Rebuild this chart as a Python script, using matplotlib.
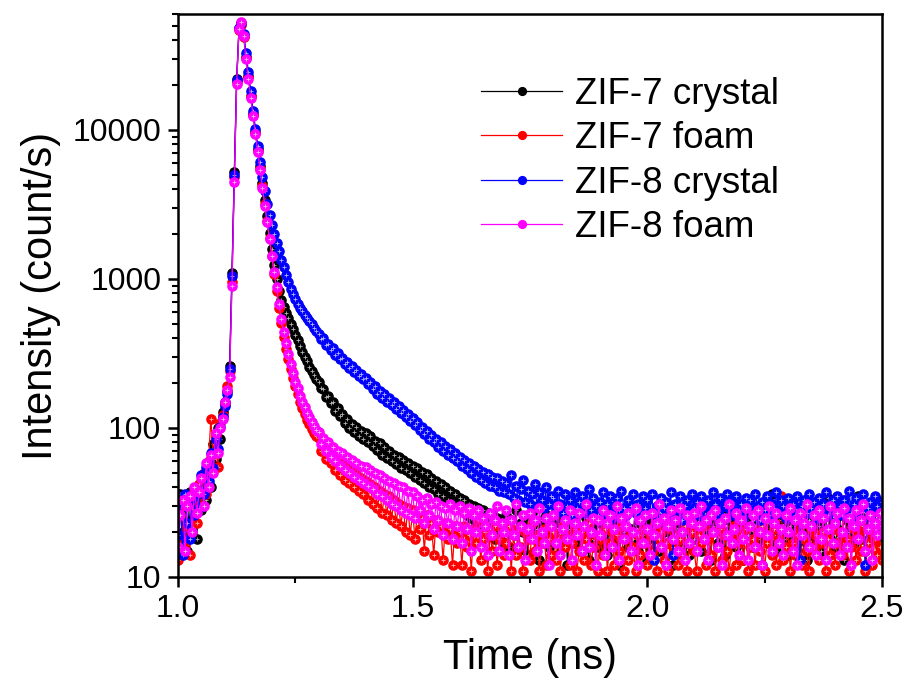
import numpy as np
import matplotlib
matplotlib.use("Agg")
import matplotlib.pyplot as plt
from matplotlib.ticker import LogLocator, NullFormatter, FixedLocator, FixedFormatter

plt.rcParams['font.family'] = ['Liberation Sans', 'DejaVu Sans']

# time channels (ns), 0.005 ns apart
time_ns = np.round(np.arange(1.0, 2.5025, 0.005), 3)

labels = ['ZIF-7 crystal', 'ZIF-7 foam', 'ZIF-8 crystal', 'ZIF-8 foam']
colors = ['#000000', '#ff0000', '#0000ff', '#ff00ff']

zif7_crystal = [
    # 1.000 - 1.105
    14, 36, 20, 31, 15, 37, 24, 33, 18, 40, 28, 45, 33, 52, 40, 78, 62, 100, 85, 128, 150, 178,
    # 1.110 - 1.205
    260, 1100, 5200, 22000, 48000, 52000, 43000, 31000, 23000, 17000, 12800, 9700, 7400, 5700,
    4400, 3400, 2650, 2050, 1600, 1250,
    # 1.210 - 1.295
    1000, 830, 720, 650, 590, 545, 500, 460, 420, 390, 355, 325, 300, 280, 258, 242, 226, 212,
    # 1.300 - 2.500
    205, 186, 184, 162, 165, 146, 150, 131, 136, 120, 124, 108, 115, 100, 106, 94, 101, 88, 96, 85,
    92, 80, 88, 76, 82, 71, 79, 66, 74, 63, 70, 60, 66, 57, 64, 54, 61, 52, 58, 50,
    56, 47, 54, 45, 51, 43, 49, 40, 46, 39, 44, 36, 42, 35, 40, 33, 38, 31, 36, 30,
    34, 28, 33, 26, 31, 25, 30, 23, 29, 22, 28, 19, 27, 21, 26, 18, 25, 20, 24, 17,
    26, 16, 24, 19, 28, 15, 23, 20, 25, 14, 22, 27, 18, 21, 13, 24, 19, 26, 16, 22,
    20, 25, 14, 23, 18, 27, 12, 21, 24, 17, 22, 29, 15, 19, 25, 13, 22, 18, 26, 16,
    23, 19, 28, 14, 21, 25, 17, 22, 12, 24, 20, 27, 16, 21, 18, 30, 15, 23, 19, 25,
    13, 22, 26, 18, 21, 15, 24, 20, 28, 17, 22, 12, 25, 19, 23, 16, 27, 21, 14, 24,
    18, 26, 20, 15, 23, 19, 29, 13, 22, 25, 17, 21, 27, 14, 20, 24, 18, 22, 16, 26,
    21, 13, 24, 19, 27, 16, 22, 18, 25, 12, 20, 23, 17, 36, 21, 15, 24, 19, 26, 18,
    14, 22, 25, 18, 21, 27, 16, 20, 13, 24, 19, 28, 17, 22, 15, 25, 20, 34, 18, 23,
    16, 21, 26, 19, 13, 24, 20, 27, 17, 22, 35, 18, 25, 15, 21, 28, 19, 23, 33, 17,
    22,
]

zif7_foam = [
    13, 30, 17, 35, 22, 14, 33, 38, 23, 42, 30, 50, 36, 60, 115, 68, 88, 55, 108, 122, 145, 190,
    240, 950, 4800, 21000, 47000, 51000, 42000, 30500, 22500, 16800, 12600, 9500, 7200, 5500,
    4200, 3200, 2450, 1880, 1420, 1080,
    830, 640, 510, 410, 340, 290, 250, 215, 190, 168, 150, 136, 124, 114, 106, 99, 93, 88,
    86, 70, 78, 62, 72, 58, 66, 52, 63, 48, 58, 45, 55, 43, 52, 40, 49, 38, 46, 36,
    44, 33, 42, 31, 40, 29, 38, 27, 36, 26, 35, 24, 33, 23, 31, 22, 30, 20, 29, 19,
    28, 18, 27, 21, 25, 15, 26, 19, 23, 14, 24, 20, 22, 13, 23, 18, 21, 12, 22, 17,
    20, 12, 22, 16, 19, 11, 21, 17, 24, 13, 18, 20, 11, 19, 15, 22, 12, 18, 21, 14,
    17, 22, 11, 19, 14, 21, 16, 11, 20, 18, 13, 23, 15, 19, 11, 17, 21, 12, 18, 14,
    20, 13, 18, 11, 22, 16, 19, 12, 17, 21, 11, 15, 20, 13, 18, 23, 12, 16, 19, 11,
    18, 14, 21, 11, 17, 20, 12, 19, 15, 22, 11, 18, 13, 20, 16, 11, 19, 14, 21, 17,
    12, 19, 15, 22, 11, 18, 20, 13, 17, 11, 21, 16, 19, 12, 18, 14, 22, 11, 17, 20,
    15, 11, 19, 17, 22, 12, 18, 14, 20, 11, 16, 21, 13, 19, 15, 11, 18, 22, 12, 17,
    19, 13, 21, 11, 16, 18, 12, 20, 15, 22, 11, 17, 19, 14, 21, 12, 18, 35, 13, 16,
    20, 11, 17, 14, 19, 22, 12, 18, 15, 11, 21, 16, 19, 13, 17, 20, 11, 18, 14, 21,
    12, 17, 20, 14, 33, 18, 11, 16, 21, 13, 19, 15, 22, 11, 17, 20, 12, 18, 14, 16,
    13,
]

zif8_crystal = [
    19, 32, 14, 36, 23, 18, 34, 26, 38, 29, 48, 36, 55, 44, 68, 54, 85, 72, 102, 118, 140, 170,
    250, 1050, 5000, 21500, 48500, 52500, 44000, 33000, 24500, 18200, 13500, 10200, 7800, 6100,
    4800, 3900, 3200, 2700, 2300, 2000,
    1750, 1550, 1350, 1200, 1060, 950, 860, 790, 730, 680, 640, 605, 575, 545, 520, 495, 470, 448,
    430, 395, 400, 362, 368, 335, 342, 310, 318, 290, 296, 270, 278, 252, 260, 238, 245, 224, 230, 212,
    215, 196, 202, 184, 190, 170, 178, 160, 168, 150, 158, 142, 150, 134, 140, 126, 132, 118, 124, 112,
    116, 104, 110, 97, 102, 91, 96, 85, 90, 80, 85, 75, 80, 70, 76, 66, 72, 63, 68, 60,
    64, 56, 61, 53, 58, 50, 56, 47, 53, 45, 51, 43, 49, 41, 47, 40, 46, 38, 44, 37,
    43, 36, 48, 34, 41, 33, 39, 45, 32, 38, 31, 36, 42, 30, 37, 33, 29, 40, 31, 35,
    34, 28, 38, 31, 27, 36, 30, 33, 26, 37, 29, 32, 35, 27, 31, 39, 28, 34, 30, 26,
    32, 37, 27, 31, 35, 25, 30, 34, 28, 38, 29, 26, 33, 30, 36, 27, 31, 24, 35, 29,
    33, 27, 36, 13, 30, 25, 34, 29, 32, 26, 37, 14, 31, 28, 35, 24, 30, 33, 27, 36,
    29, 32, 26, 35, 30, 24, 33, 28, 37, 31, 27, 34, 25, 30, 36, 29, 32, 26, 35, 28,
    31, 25, 34, 29, 33, 27, 36, 30, 24, 32, 28, 35, 26, 31, 29, 37, 27, 33, 30, 25,
    34, 28, 31, 26, 35, 13, 30, 33, 27, 36, 29, 32, 25, 34, 28, 31, 37, 26, 30, 33,
    28, 35, 30, 26, 33, 29, 38, 27, 31, 34, 25, 30, 36, 12, 29, 32, 27, 35, 30, 28,
    32,
]

zif8_foam = [
    16, 26, 33, 15, 30, 35, 20, 40, 27, 37, 46, 30, 58, 40, 66, 50, 92, 68, 100, 115, 150, 180,
    220, 900, 4500, 20500, 47500, 53000, 42500, 30000, 22000, 16500, 12400, 9400, 7100, 5400,
    4100, 3100, 2400, 1850, 1420, 1120,
    880, 680, 540, 440, 370, 315, 270, 235, 205, 185, 165, 150, 138, 127, 118, 110, 103, 97,
    94, 78, 86, 70, 80, 64, 75, 60, 70, 56, 68, 52, 64, 50, 61, 47, 58, 45, 56, 43,
    55, 41, 52, 39, 50, 36, 48, 35, 46, 33, 44, 31, 43, 30, 41, 28, 40, 27, 38, 26,
    37, 25, 35, 28, 33, 23, 34, 26, 31, 21, 32, 24, 30, 19, 29, 23, 31, 18, 28, 22,
    30, 17, 27, 21, 29, 15, 26, 20, 28, 16, 25, 22, 14, 27, 19, 24, 30, 15, 23, 20,
    28, 14, 24, 19, 31, 16, 22, 26, 13, 21, 27, 18, 24, 15, 29, 20, 17, 25, 12, 22,
    26, 17, 30, 14, 21, 24, 18, 28, 13, 23, 19, 27, 15, 22, 31, 16, 20, 25, 12, 24,
    19, 28, 14, 23, 26, 16, 21, 30, 13, 25, 18, 22, 27, 15, 20, 29, 12, 24, 17, 26,
    21, 14, 27, 19, 23, 31, 16, 25, 12, 22, 28, 18, 24, 15, 29, 20, 13, 26, 17, 23,
    27, 15, 22, 30, 18, 24, 13, 26, 20, 28, 16, 23, 12, 25, 19, 31, 17, 21, 27, 14,
    24, 18, 29, 13, 22, 26, 16, 28, 20, 12, 25, 19, 30, 15, 23, 27, 17, 21, 14, 26,
    20, 29, 15, 24, 12, 27, 19, 23, 31, 16, 22, 26, 14, 28, 18, 25, 13, 21, 30, 17,
    23, 27, 14, 20, 29, 16, 25, 12, 22, 28, 18, 24, 31, 15, 21, 26, 13, 23, 19, 27,
    22,
]

series = [zif7_crystal, zif7_foam, zif8_crystal, zif8_foam]

fig = plt.figure(figsize=(9.11, 6.94), dpi=100)
ax = fig.add_axes([0.1954, 0.1686, 0.7726, 0.8112])

for vals, lab, col in zip(series, labels, colors):
    ax.plot(time_ns, vals, '-', color=col, lw=0.9, marker='o', ms=6.6,
            mec=col, mfc=col, label=lab)
    # light centre of the Origin-style markers
    ax.plot(time_ns, vals, linestyle='none', marker='+', ms=2.2, mew=0.6,
            color='white', alpha=0.7)

ax.set_yscale('log')
ax.set_xlim(1.0, 2.5)
ax.set_ylim(10, 60000)

ax.xaxis.set_major_locator(FixedLocator([1.0, 1.5, 2.0, 2.5]))
ax.xaxis.set_minor_locator(FixedLocator([1.25, 1.75, 2.25]))
ax.yaxis.set_major_locator(FixedLocator([10, 100, 1000, 10000]))
ax.yaxis.set_major_formatter(FixedFormatter(['10', '100', '1000', '10000']))
ax.yaxis.set_minor_locator(LogLocator(base=10, subs=np.arange(2, 10)))
ax.yaxis.set_minor_formatter(NullFormatter())

ax.tick_params(axis='both', which='major', direction='out', length=7, width=1.8,
               labelsize=23, pad=5)
ax.tick_params(axis='both', which='minor', direction='out', length=4, width=1.5)
for sp in ax.spines.values():
    sp.set_linewidth(1.8)

ax.set_xlabel('Time (ns)', fontsize=30, labelpad=10)
ax.set_ylabel('Intensity (count/s)', fontsize=30, labelpad=8)

leg = ax.legend(loc='upper left', bbox_to_anchor=(0.41, 0.915), frameon=False,
                fontsize=26.5, handlelength=2.2, handletextpad=0.35, labelspacing=0.26,
                borderaxespad=0, markerscale=0.85)

fig.savefig('out.png', dpi=100)
